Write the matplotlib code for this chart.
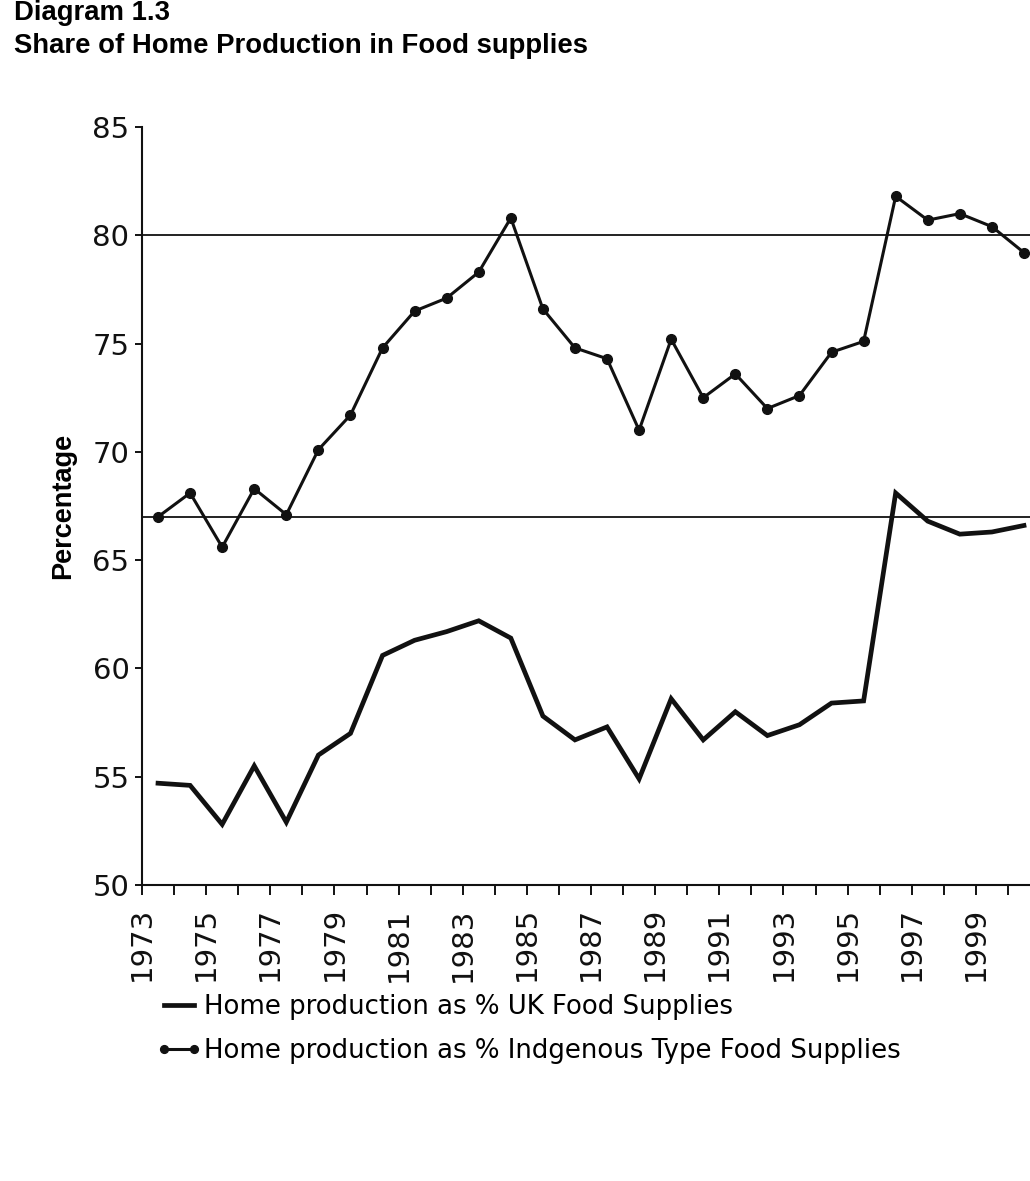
import numpy as np
import matplotlib
matplotlib.use("Agg")
import matplotlib.pyplot as plt

# values
years = list(range(1973, 2001))
uk_share = [54.7, 54.6, 52.8, 55.5, 52.9, 56.0, 57.0, 60.6, 61.3, 61.7,
            62.2, 61.4, 57.8, 56.7, 57.3, 54.9, 58.6, 56.7, 58.0, 56.9,
            57.4, 58.4, 58.5, 68.1, 66.8, 66.2, 66.3, 66.6]
indigenous_share = [67.0, 68.1, 65.6, 68.3, 67.1, 70.1, 71.7, 74.8, 76.5, 77.1,
                    78.3, 80.8, 76.6, 74.8, 74.3, 71.0, 75.2, 72.5, 73.6, 72.0,
                    72.6, 74.6, 75.1, 81.8, 80.7, 81.0, 80.4, 79.2]
ref_levels = [80, 67]
y_ticks = [50, 55, 60, 65, 70, 75, 80, 85]

title_top = "Diagram 1.3"
title = "Share of Home Production in Food supplies"
label_uk = "Home production as % UK Food Supplies"
label_ind = "Home production as % Indgenous Type Food Supplies"

W, H = 1030, 1181
fig = plt.figure(figsize=(W / 100, H / 100), dpi=100)
plt.rcParams['font.family'] = ['DejaVu Sans']
bold_font = ["Liberation Sans", "DejaVu Sans"]

# axes placed in pixel terms (right end runs off the scan edge)
left, right, top, bottom = 142, 1040, 127, 885
ax = fig.add_axes([left / W, 1 - bottom / H, (right - left) / W, (bottom - top) / H])

ink = "#111111"
for lvl in ref_levels:
    ax.axhline(lvl, color=ink, lw=1.3, zorder=1)

ax.plot(years, uk_share, color=ink, lw=3.4, solid_joinstyle="miter", label=label_uk, zorder=3)
ax.plot(years, indigenous_share, color=ink, lw=2.2, marker="o", markersize=7,
        label=label_ind, zorder=4)

ax.set_xlim(1972.5, 2000.5)
ax.set_ylim(50, 85)

for s in ["top", "right"]:
    ax.spines[s].set_visible(False)
for s in ["left", "bottom"]:
    ax.spines[s].set_linewidth(1.5)
    ax.spines[s].set_color(ink)

# ticks on year boundaries, every other one labelled (labels sit on the boundary as in the scan)
bounds = [y - 0.5 for y in years]
ax.set_xticks(bounds)
ax.set_xticklabels([str(y) if y % 2 == 1 else "" for y in years], rotation=90, fontsize=21)
ax.set_yticks(y_ticks)
ax.set_yticklabels([str(v) for v in y_ticks], fontsize=21)
ax.tick_params(axis="x", direction="out", length=7, width=1.4, pad=9, colors=ink)
ax.tick_params(axis="y", direction="out", length=5, width=1.4, pad=4, colors=ink)

ax.set_ylabel("Percentage", fontsize=19.5, fontweight="bold", family=bold_font, labelpad=12)

fig.text(14 / W, 1 - 20 / H, title_top, fontsize=19.8, fontweight="bold",
         family=bold_font, va="baseline", ha="left")
fig.text(14 / W, 1 - 53 / H, title, fontsize=19.8, fontweight="bold",
         family=bold_font, va="baseline", ha="left")

fig.legend(loc="upper left", bbox_to_anchor=(156 / W, 1 - 994 / H), frameon=False,
           fontsize=18.7, handlelength=1.75, handletextpad=0.1, labelspacing=0.68,
           numpoints=2, borderpad=0, borderaxespad=0, markerscale=0.8)

fig.savefig("out.png", dpi=100)
